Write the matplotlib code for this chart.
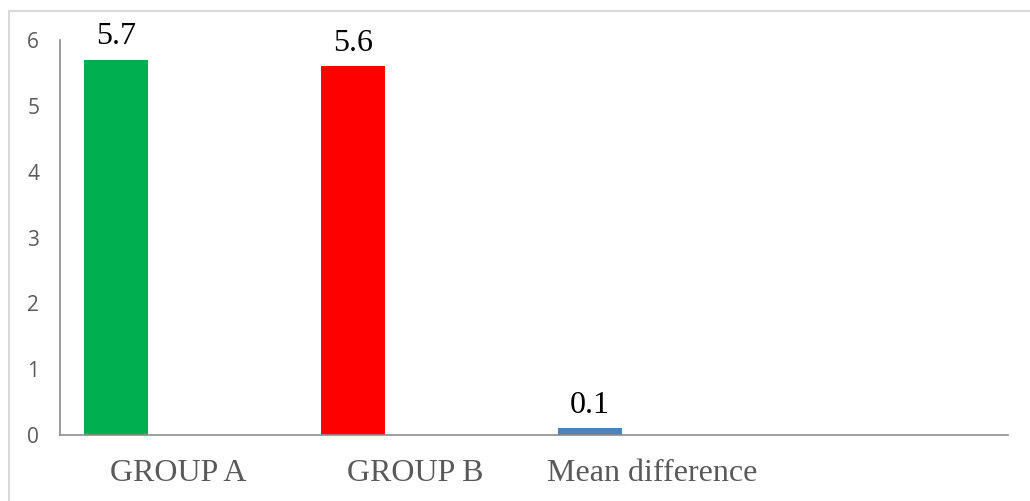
import matplotlib
matplotlib.use("Agg")
import matplotlib.pyplot as plt
from matplotlib.patches import Rectangle

categories = ["GROUP A", "GROUP B", "Mean difference"]
values = [5.7, 5.6, 0.1]
bar_colors = ["#00B050", "#FF0000", "#4F81BD"]
n_slots = 4  # one empty slot on the right
yticks = [0, 1, 2, 3, 4, 5, 6]

fig = plt.figure(figsize=(10.30, 5.01), dpi=100)
ax = fig.add_axes([60 / 1030, 1 - 435 / 501, 948 / 1030, 395 / 501])

# bars sit at the left of each slot, labels centred in the slot
slot = list(range(len(categories)))
bar_left = [s + 24 / 237 for s in slot]
bar_w = 64 / 237
bars = ax.bar(bar_left, values, width=bar_w, align="edge", color=bar_colors)

for rect, v in zip(bars, values):
    ax.annotate(f"{v:.1f}", (rect.get_x() + rect.get_width() / 2, v),
                xytext=(0, 11), textcoords="offset points",
                ha="center", va="baseline", fontsize=23,
                family="Liberation Serif", color="black")

ax.set_xlim(0, n_slots)
ax.set_ylim(0, 6)
ax.set_xticks([s + 0.5 for s in slot])
ax.set_xticklabels(categories, family="Liberation Serif", fontsize=23, color="#595959")
ax.set_yticks(yticks)
ax.set_yticklabels([str(t) for t in yticks], family="Open Sans", fontsize=15, color="#595959")
ax.tick_params(axis="both", length=0)
ax.tick_params(axis="y", pad=15)
ax.tick_params(axis="x", pad=17)

for side in ["top", "right"]:
    ax.spines[side].set_visible(False)
for side in ["left", "bottom"]:
    ax.spines[side].set_color("#8C8C8C")
    ax.spines[side].set_linewidth(1.2)

# light frame around the chart area
fig.patches.append(Rectangle((8.5 / 1030, -0.1), 1.2, 1 - 10.5 / 501 + 0.1,
                             transform=fig.transFigure, fill=False,
                             edgecolor="#D9D9D9", linewidth=1.5))

fig.savefig("out.png", dpi=100)
